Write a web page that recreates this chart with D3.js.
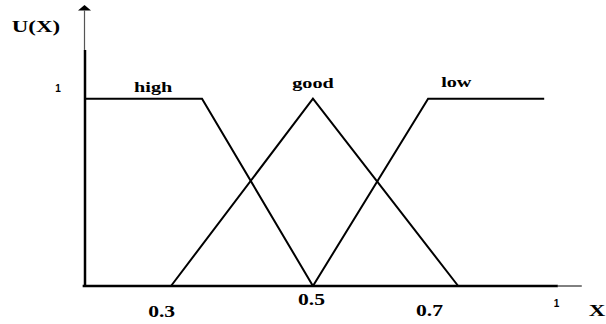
<!DOCTYPE html>
<html>
<head>
<meta charset="utf-8">
<script src="https://cdn.jsdelivr.net/npm/d3@7"></script>
<style>
  body { margin: 0; background: #fff; }
  svg { display: block; }
  .serif { font-family: "Liberation Serif", "DejaVu Serif", serif; font-weight: bold; }
  .sans { font-family: "Liberation Sans", Arial, sans-serif; font-weight: bold; }
</style>
</head>
<body>
<div id="chart"></div>
<script>
// membership functions, x in axis units, u = membership degree
const highX = [0, 0.249, 0.485];
const highU = [1, 1, 0];
const goodX = [0.183, 0.485, 0.794];
const goodU = [0, 1, 0];
const lowX = [0.485, 0.730, 0.977];
const lowU = [0, 1, 1];

const seriesNames = ["high", "good", "low"];
const seriesLabelX = [0.145, 0.485, 0.79];

// x tick labels as drawn (the sketch is not to scale)
const xTickPos = [0.162, 0.481, 0.732, 1.002];
const xTickText = ["0.3", "0.5", "0.7", "1"];
const yTickPos = [1];
const yTickText = ["1"];

const width = 606, height = 324;
const stretch = 1.35; // text in the original is widened horizontally

const svg = d3.select("#chart").append("svg")
    .attr("width", width)
    .attr("height", height);

const x = d3.scaleLinear().domain([0, 1]).range([85, 555]);
const y = d3.scaleLinear().domain([0, 1.5]).range([286, 5]);

// axes lines: thick part then thin extension
svg.append("line")
    .attr("x1", x(-0.005)).attr("x2", x(1.006))
    .attr("y1", y(0)).attr("y2", y(0))
    .attr("stroke", "#000").attr("stroke-width", 2.5);
svg.append("line")
    .attr("x1", x(1.006)).attr("x2", x(1.057))
    .attr("y1", y(0)).attr("y2", y(0))
    .attr("stroke", "#000").attr("stroke-width", 1);

svg.append("line")
    .attr("x1", x(0)).attr("x2", x(0))
    .attr("y1", y(-0.005)).attr("y2", y(1.26))
    .attr("stroke", "#000").attr("stroke-width", 2.5);
svg.append("line")
    .attr("x1", x(0) - 0.5).attr("x2", x(0) - 0.5)
    .attr("y1", y(1.26)).attr("y2", y(1.47))
    .attr("stroke", "#555").attr("stroke-width", 1.2);
// arrow head
svg.append("path")
    .attr("d", `M${x(0) - 7},${y(1.47)} L${x(0) - 0.5},${y(1.5)} L${x(0) + 6},${y(1.47)} Z`)
    .attr("fill", "#000");

// membership curves
const line = d3.line().x(d => x(d[0])).y(d => y(d[1]));
const series = [
    d3.zip(highX, highU),
    d3.zip(goodX, goodU),
    d3.zip(lowX, lowU)
];
svg.selectAll("path.mf")
    .data(series)
    .join("path")
    .attr("class", "mf")
    .attr("d", line)
    .attr("fill", "none")
    .attr("stroke", "#000")
    .attr("stroke-width", 2)
    .attr("stroke-linejoin", "miter");

// helper for widened text
function wideText(g, px, py, txt, size, cls) {
    g.append("text")
        .attr("class", cls)
        .attr("transform", `translate(${px},${py}) scale(${stretch},1)`)
        .attr("text-anchor", "middle")
        .style("font-size", size + "px")
        .text(txt);
}

// series names
const nameBase = [92, 88, 87];
seriesNames.forEach((n, i) => {
    wideText(svg, x(seriesLabelX[i]), nameBase[i], n, 15, "serif");
});

// x axis tick labels
const xAxis = d3.axisBottom(x)
    .tickValues(xTickPos)
    .tickSize(0)
    .tickFormat((d, i) => xTickText[i]);
const xg = svg.append("g").attr("transform", `translate(0,${y(0)})`).call(xAxis);
xg.select(".domain").remove();
xg.selectAll("text").remove();
const tickBase = [31, 19, 30, 21];
xg.selectAll(".tick").each(function (d, i) {
    const t = d3.select(this);
    if (xTickText[i] === "1") {
        t.append("text").attr("class", "sans")
            .attr("y", tickBase[i]).attr("text-anchor", "middle")
            .style("font-size", "10px").attr("fill", "#000")
            .text(xTickText[i]);
    } else {
        t.append("text").attr("class", "serif")
            .attr("transform", `translate(0,${tickBase[i]}) scale(${stretch},1)`)
            .attr("text-anchor", "middle")
            .style("font-size", "16px").attr("fill", "#000")
            .text(xTickText[i]);
    }
});

// y axis tick label
const yAxis = d3.axisLeft(y)
    .tickValues(yTickPos)
    .tickSize(0)
    .tickFormat((d, i) => yTickText[i]);
const yg = svg.append("g").attr("transform", `translate(${x(0)},0)`).call(yAxis);
yg.select(".domain").remove();
yg.selectAll("text")
    .attr("class", "sans")
    .attr("x", -27).attr("dy", "-0.7em")
    .attr("text-anchor", "middle")
    .style("font-size", "10px")
    .attr("fill", "#000");

// axis titles
wideText(svg, 36, 32, "U(X)", 17, "serif");
wideText(svg, 597, 316, "X", 17, "serif");
</script>
</body>
</html>
